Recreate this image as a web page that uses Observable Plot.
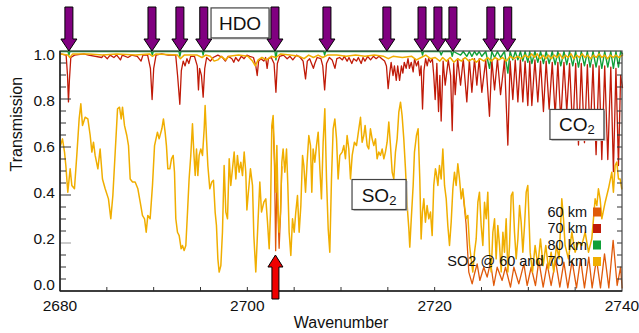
<!DOCTYPE html>
<html><head><meta charset="utf-8">
<script src="https://cdn.jsdelivr.net/npm/d3@7"></script>
<script src="https://cdn.jsdelivr.net/npm/@observablehq/plot@0.6"></script>
<style>body{margin:0;background:#fff;font-family:"Liberation Sans",Arial,sans-serif;}</style>
</head><body><div id="chart"></div>
<script>
// ---- data: [wavenumber, transmission] ----
const so2At60 = [[2680.0,0.608],[2680.21,0.636],[2680.43,0.581],[2680.57,0.525],[2680.78,0.414],[2681.03,0.511],[2681.21,0.442],[2681.49,0.428],[2681.74,0.567],[2681.99,0.719],[2682.17,0.782],[2682.35,0.692],[2682.63,0.726],[2682.92,0.719],[2683.17,0.65],[2683.35,0.581],[2683.52,0.622],[2683.70,0.567],[2683.99,0.511],[2684.23,0.594],[2684.48,0.469],[2684.77,0.428],[2685.12,0.386],[2685.37,0.303],[2685.59,0.40],[2685.84,0.581],[2686.09,0.761],[2686.30,0.768],[2686.48,0.719],[2686.62,0.768],[2686.83,0.692],[2687.08,0.65],[2687.26,0.608],[2687.44,0.469],[2687.69,0.456],[2687.97,0.456],[2688.26,0.428],[2688.51,0.372],[2688.75,0.317],[2688.97,0.303],[2689.15,0.247],[2689.32,0.317],[2689.57,0.303],[2689.82,0.442],[2690.04,0.608],
[2690.35,0.664],[2690.53,0.636],[2690.82,0.678],[2690.99,0.719],[2691.17,0.664],[2691.31,0.608],[2691.46,0.511],[2691.67,0.511],[2691.85,0.553],[2692.03,0.567],[2692.17,0.497],[2692.31,0.303],[2692.49,0.247],[2692.67,0.233],[2692.88,0.178],[2693.02,0.192],[2693.20,0.171],[2693.38,0.192],[2693.56,0.331],[2693.73,0.469],[2693.91,0.567],[2694.09,0.699],[2694.23,0.581],[2694.38,0.483],[2694.52,0.594],[2694.66,0.483],[2694.80,0.567],[2694.98,0.594],[2695.16,0.567],[2695.34,0.678],[2695.44,0.775],[2695.59,0.636],[2695.73,0.525],[2695.94,0.428],[2696.15,0.456],[2696.33,0.463],[2696.51,0.331],[2696.65,0.275],[2696.80,0.136],[2696.94,0.081],[2697.12,0.108],[2697.29,0.247],[2697.47,0.525],[2697.65,0.331],[2697.83,0.303],[2698.01,0.553],[2698.18,0.442],[2698.36,0.511],[2698.54,0.581],[2698.72,0.469],[2698.89,0.567],[2699.07,0.497],[2699.25,0.539],[2699.43,0.483],[2699.61,0.581],[2699.78,0.497],[2699.9,0.34],
[2700.03,0.40],[2700.28,0.511],[2700.50,0.442],[2700.64,0.233],[2700.85,0.081],[2701.10,0.303],[2701.28,0.456],[2701.46,0.331],[2701.71,0.372],[2701.92,0.386],[2702.10,0.289],[2702.28,0.178],[2702.42,0.331],[2702.56,0.692],[2702.70,0.733],[2702.85,0.567],[2702.99,0.414],[2703.10,0.608],[2703.24,0.331],[2703.34,0.247],[2703.49,0.331],[2703.63,0.539],[2703.77,0.594],[2703.95,0.497],[2704.13,0.594],[2704.27,0.442],[2704.41,0.247],[2704.59,0.15],[2704.77,0.303],[2704.95,0.247],[2705.12,0.331],[2705.30,0.40],[2705.48,0.247],[2705.66,0.358],[2705.84,0.567],[2705.98,0.525],[2706.16,0.414],[2706.33,0.539],[2706.51,0.65],[2706.69,0.608],[2706.83,0.414],[2706.97,0.594],[2707.15,0.539],[2707.33,0.608],[2707.51,0.664],[2707.69,0.511],[2707.86,0.386],[2708.04,0.622],[2708.22,0.761],[2708.40,0.469],[2708.58,0.261],[2708.75,0.164],[2708.93,0.469],[2709.11,0.678],[2709.29,0.719],[2709.47,0.636],[2709.64,0.469],[2709.82,0.567],
[2710.07,0.581],[2710.25,0.608],[2710.42,0.553],[2710.60,0.65],[2710.78,0.594],[2710.96,0.469],[2711.14,0.567],[2711.38,0.622],[2711.60,0.608],[2711.85,0.678],[2712.03,0.726],[2712.20,0.622],[2712.38,0.65],[2712.52,0.692],[2712.74,0.608],[2712.91,0.594],[2713.09,0.678],[2713.27,0.636],[2713.45,0.608],[2713.63,0.636],[2713.80,0.553],[2713.98,0.581],[2714.16,0.567],[2714.34,0.594],[2714.52,0.553],[2714.69,0.581],[2714.87,0.622],[2715.05,0.706],[2715.23,0.608],[2715.41,0.497],[2715.58,0.469],[2715.76,0.581],[2715.94,0.636],[2716.12,0.747],[2716.30,0.789],[2716.47,0.733],[2716.65,0.636],[2716.83,0.511],[2717.01,0.358],[2717.19,0.261],[2717.29,0.185],[2717.43,0.289],[2717.65,0.442],[2717.79,0.581],[2718.00,0.65],[2718.18,0.678],[2718.36,0.469],[2718.50,0.219],[2718.64,0.331],[2718.79,0.386],[2718.96,0.289],[2719.14,0.358],[2719.32,0.303],[2719.50,0.331],[2719.68,0.233],[2719.85,0.442],[2720.03,0.511],
[2720.11,0.497],[2720.29,0.442],[2720.46,0.525],[2720.64,0.469],[2720.82,0.594],[2721.0,0.442],[2721.18,0.386],[2721.35,0.275],[2721.53,0.192],[2721.71,0.289],[2721.89,0.428],[2722.06,0.497],[2722.24,0.442],[2722.42,0.532],[2722.60,0.469],[2722.78,0.386],[2722.95,0.428],[2723.13,0.358],[2723.31,0.303],[2723.49,0.317],[2723.67,0.192],[2723.84,0.136],[2724.02,0.081],[2724.2,0.164],[2724.38,0.219],[2724.56,0.372],[2724.73,0.414],[2724.91,0.275],[2725.09,0.192],[2725.27,0.372],[2725.45,0.303],[2725.62,0.414],[2725.80,0.164],[2725.98,0.081],[2726.16,0.247],[2726.34,0.303],[2726.51,0.136],[2726.69,0.275],[2726.87,0.192],[2727.05,0.081],[2727.23,0.247],[2727.40,0.164],[2727.58,0.303],[2727.76,0.081],[2727.94,0.192],[2728.12,0.40],[2728.29,0.414],[2728.47,0.247],[2728.65,0.136],[2728.83,0.219],[2729.01,0.358],[2729.18,0.289],[2729.36,0.164],[2729.54,0.275],[2729.72,0.414],[2729.89,0.442],[2730.07,0.247],
[2730.14,0.164],[2730.39,0.081],[2730.67,0.192],[2730.96,0.108],[2731.24,0.219],[2731.53,0.108],[2731.81,0.192],[2732.10,0.094],[2732.38,0.164],[2732.66,0.081],[2732.95,0.192],[2733.23,0.136],[2733.52,0.386],[2733.70,0.303],[2733.87,0.192],[2734.23,0.136],[2734.59,0.247],[2734.94,0.164],[2735.30,0.206],[2735.65,0.192],[2736.01,0.247],[2736.37,0.164],[2736.72,0.219],[2737.08,0.386],[2737.26,0.358],[2737.43,0.428],[2737.61,0.386],[2737.79,0.303],[2738.15,0.372],[2738.50,0.428],[2738.86,0.497],[2739.03,0.414],[2739.21,0.525],[2739.39,0.539],[2739.57,0.469],[2739.75,0.469],[2739.92,0.428]];

const so2At70 = [[2680,0.99],[2680.8,0.985],[2681.0,0.975],[2681.3,0.99],[2683,0.99],[2684.5,0.985],[2686,0.99],[2688,0.985],[2689.5,0.99],[2689.8,0.98],[2690.2,0.99],[2692.5,0.985],[2692.8,0.97],[2693.2,0.985],[2694.6,0.985],[2695.1,0.975],[2695.5,0.985],[2696.0,0.98],[2696.4,0.96],[2696.8,0.965],[2697.2,0.98],[2697.6,0.965],[2698.0,0.98],[2699.0,0.985],[2700.0,0.98],[2700.5,0.96],[2700.8,0.94],[2701.1,0.965],[2701.5,0.975],[2702.0,0.965],[2702.5,0.98],[2703.0,0.975],[2703.5,0.99],[2704.5,0.985],[2705.5,0.98],[2706.0,0.97],[2706.5,0.985],[2707.0,0.975],[2707.5,0.985],[2708.0,0.975],[2708.5,0.985],[2709.5,0.985],[2710.5,0.98],[2711.5,0.985],[2712.5,0.98],[2713.5,0.985],[2714.5,0.98],[2715.0,0.97],[2715.5,0.98],[2716.5,0.975],[2717.5,0.98],[2718.0,0.965],[2718.5,0.975],[2719.0,0.985],[2719.5,0.97],[2720.0,0.975],[2720.5,0.96],[2720.8,0.975],[2721.2,0.96],[2721.6,0.975],[2722.0,0.955],[2722.4,0.97],[2722.8,0.96],[2723.2,0.975],[2723.6,0.96],[2724.0,0.97],[2724.4,0.955],[2724.8,0.97],[2725.2,0.96],[2725.6,0.975],[2726.0,0.96],[2726.4,0.975],[2726.8,0.965],[2727.2,0.975],[2727.6,0.96],[2728.0,0.98],[2728.4,0.97],[2728.8,0.98],[2729.2,0.97],[2729.6,0.985],[2730.0,0.975],[2730.3,0.99],[2730.6,0.975],[2730.9,0.99],[2731.2,0.97],[2731.5,0.985],[2731.8,0.97],[2732.1,0.985],[2732.4,0.97],[2732.7,0.985],[2733.0,0.975],[2733.3,0.99],[2733.6,0.97],[2733.9,0.985],[2734.2,0.975],[2734.5,0.99],[2734.8,0.97],[2735.1,0.985],[2735.4,0.975],[2735.7,0.99],[2736.0,0.975],[2736.3,0.985],[2736.6,0.97],[2736.9,0.985],[2737.2,0.975],[2737.5,0.99],[2737.8,0.975],[2738.1,0.985],[2738.4,0.97],[2738.7,0.985],[2739.0,0.975],[2739.3,0.985],[2739.6,0.975],[2740.0,0.985]];

const km60 = [[2702.56,0.68],[2702.7,0.70],[2702.85,0.52],[2702.97,0.17],[2703.1,0.45],[2703.24,0.30],[2703.34,0.18],[2703.49,0.32],[2703.63,0.52],[2703.7,null],
[2723.0,0.40],[2723.3,0.28],[2723.59,0.081],[2723.95,0.032],[2724.20,0.074],[2724.48,0.115],[2724.77,0.046],[2725.19,0.101],[2725.55,0.060],[2725.91,0.122],[2726.26,0.025],[2726.62,0.101],[2727.15,0.046],[2727.51,0.101],[2728.04,0.018],[2728.40,0.101],[2728.93,0.032],[2729.47,0.115],[2729.82,0.025],[2730.25,0.101],[2730.71,0.025],[2731.07,0.129],[2731.53,0.018],[2731.96,0.115],[2732.38,0.025],[2732.85,0.129],[2733.31,0.018],[2733.74,0.122],[2734.16,0.015],[2734.62,0.129],[2735.09,0.015],[2735.52,0.136],[2735.94,0.015],[2736.40,0.143],[2736.76,0.015],[2737.22,0.136],[2737.65,0.015],[2738.08,0.157],[2738.54,0.015],[2739.0,0.213],[2739.43,0.025],[2739.79,0.101],[2739.96,0.015]];

const km70 = [[2680.0,0.99],[2680.6,0.985],[2680.75,0.90],[2680.85,0.79],[2680.95,0.88],[2681.1,0.975],[2681.5,0.985],[2682.5,0.99],[2683.0,0.985],[2684.4,0.975],[2684.6,0.985],[2685.0,0.97],[2685.3,0.985],[2685.7,0.975],[2686.0,0.985],[2686.4,0.965],[2686.6,0.985],[2687.2,0.975],[2687.6,0.985],[2688.2,0.98],[2688.6,0.96],[2688.8,0.985],[2689.3,0.985],[2689.6,0.93],[2689.78,0.80],[2689.95,0.93],[2690.2,0.985],[2690.8,0.99],[2691.5,0.985],[2692.3,0.985],[2692.5,0.9],[2692.74,0.78],[2692.9,0.92],[2693.1,0.96],[2693.3,0.94],[2693.5,0.97],[2693.7,0.95],[2693.9,0.98],[2694.3,0.98],[2694.6,0.94],[2694.73,0.84],[2694.85,0.93],[2695.05,0.9],[2695.23,0.81],[2695.4,0.93],[2695.6,0.975],[2696.0,0.96],[2696.3,0.975],[2696.8,0.985],[2697.3,0.975],[2697.6,0.96],[2697.9,0.98],[2698.3,0.97],[2698.5,0.955],[2698.7,0.975],[2699.0,0.96],[2699.3,0.98],[2699.6,0.97],[2699.9,0.985],[2700.2,0.98],[2700.6,0.975],[2700.85,0.94],[2701.0,0.90],[2701.15,0.96],[2701.4,0.97],[2701.7,0.96],[2701.9,0.975],[2702.06,0.93],[2702.2,0.97],[2702.5,0.975],[2702.8,0.95],[2703.0,0.83],[2703.15,0.95],[2703.4,0.98],[2703.8,0.985],[2704.2,0.97],[2704.5,0.98],[2704.8,0.965],[2705.2,0.985],[2705.6,0.975],[2705.9,0.96],[2706.16,0.886],[2706.35,0.96],[2706.6,0.97],[2706.8,0.95],[2707.0,0.93],[2707.15,0.95],[2707.4,0.975],[2707.8,0.97],[2708.0,0.94],[2708.2,0.84],[2708.4,0.95],[2708.7,0.975],[2709.0,0.965],[2709.3,0.93],[2709.5,0.97],[2709.8,0.975],
[2710.1,0.965],[2710.3,0.98],[2710.6,0.96],[2710.8,0.975],[2711.1,0.95],[2711.3,0.97],[2711.6,0.96],[2711.8,0.975],[2712.1,0.95],[2712.3,0.975],[2712.5,0.96],[2712.8,0.98],[2713.1,0.965],[2713.4,0.98],[2713.7,0.97],[2714.0,0.98],[2714.3,0.97],[2714.6,0.96],[2714.8,0.94],[2714.98,0.845],[2715.15,0.91],[2715.3,0.955],[2715.5,0.90],[2715.65,0.94],[2715.85,0.88],[2716.0,0.94],[2716.2,0.88],[2716.4,0.94],[2716.55,0.91],[2716.7,0.955],[2716.9,0.93],[2717.1,0.97],[2717.25,0.93],[2717.45,0.955],[2717.65,0.915],[2717.8,0.97],[2718.0,0.94],[2718.2,0.96],[2718.35,0.9],[2718.5,0.94],[2718.65,0.76],[2718.8,0.92],[2718.98,0.97],[2719.15,0.94],[2719.3,0.97],[2719.5,0.955],[2719.7,0.97],[2719.85,0.90],
[2720.0,0.80],[2720.18,0.95],[2720.36,0.75],[2720.5,0.9],[2720.64,0.71],[2720.85,0.96],[2721.07,0.86],[2721.4,0.965],[2721.65,0.9],[2721.82,0.67],[2721.98,0.95],[2722.14,0.82],[2722.4,0.97],[2722.71,0.86],[2723.0,0.97],[2723.38,0.79],[2723.65,0.965],[2723.92,0.83],[2724.2,0.97],[2724.45,0.86],[2724.7,0.97],[2724.98,0.83],[2725.4,0.965],[2725.8,0.73],[2726.05,0.965],[2726.34,0.84],[2726.65,0.97],[2726.98,0.82],[2727.4,0.965],[2727.76,0.61],[2728.0,0.96],[2728.29,0.80],[2728.55,0.965],[2728.83,0.79],[2729.1,0.965],[2729.36,0.79],[2729.6,0.96],[2729.89,0.775],[2730.1,0.96],[2730.32,0.775],[2730.65,0.965],[2730.96,0.79],[2731.25,0.96],[2731.56,0.75],[2731.85,0.96],[2732.17,0.76],[2732.5,0.955],[2732.81,0.73],[2733.1,0.955],[2733.41,0.71],[2733.75,0.955],[2734.05,0.75],[2734.35,0.95],[2734.69,0.66],[2735.0,0.95],[2735.3,0.61],[2735.6,0.95],[2735.94,0.62],[2736.25,0.945],[2736.54,0.64],[2736.85,0.945],[2737.18,0.57],[2737.5,0.94],[2737.79,0.55],[2738.1,0.94],[2738.43,0.55],[2738.75,0.935],[2739.03,0.50],[2739.3,0.93],[2739.57,0.525],[2739.8,0.9],[2740.0,0.85]];

const km80 = [[2680,1],[2680.8,1],[2680.9,0.985],[2681.0,1],[2689.7,1],[2689.8,0.985],[2689.9,1],[2692.65,1],[2692.74,0.98],[2692.85,1],[2695.15,1],[2695.23,0.985],[2695.3,1],[2702.9,1],[2703.0,0.965],[2703.1,1],[2708.1,1],[2708.2,0.985],[2708.3,1],[2718.55,1],[2718.65,0.985],[2718.75,1],[2720.5,1],[2720.64,0.985],[2720.8,1],[2721.7,1],[2721.82,0.98],[2721.95,1],[2722.71,0.985],[2723.0,1],[2723.38,0.98],[2723.65,1],[2723.92,0.98],[2724.2,1],[2724.45,0.985],[2724.7,1],[2724.98,0.98],[2725.4,1],[2725.8,0.93],[2726.05,1],[2726.34,0.975],[2726.65,1],[2726.98,0.975],[2727.4,1],[2727.76,0.91],[2728.0,1],[2728.29,0.965],[2728.55,1],[2728.83,0.965],[2729.1,1],[2729.36,0.96],[2729.6,1],[2729.89,0.955],[2730.1,1],[2730.32,0.95],[2730.65,1],[2730.96,0.955],[2731.25,1],[2731.56,0.95],[2731.85,1],[2732.17,0.95],[2732.5,1],[2732.81,0.945],[2733.1,1],[2733.41,0.94],[2733.75,1],[2734.05,0.945],[2734.35,1],[2734.69,0.94],[2735.0,1],[2735.3,0.935],[2735.6,1],[2735.94,0.94],[2736.25,1],[2736.54,0.935],[2736.85,1],[2737.18,0.935],[2737.5,1],[2737.79,0.93],[2738.1,1],[2738.43,0.935],[2738.75,1],[2739.03,0.93],[2739.3,1],[2739.57,0.935],[2739.8,1],[2740,0.99]];

const hdoArrows = [2680.95, 2689.82, 2692.8, 2695.35, 2702.95, 2708.5, 2714.9, 2718.65, 2720.35, 2721.95, 2726.0, 2727.8];
const so2Arrow = [[2703.0, 0.15]];
const xTicks = [2680, 2700, 2720, 2740];
const yTicks = [0, 0.2, 0.4, 0.6, 0.8, 1.0];
const legendLabels = ["60 km", "70 km", "80 km", "SO2 @ 60 and 70 km"];
const annotations = [
  {label: "HDO", sub: "", w: 2699.22, t: 1.117, bw: 58},
  {label: "CO", sub: "2", w: 2735.19, t: 0.694, bw: 54},
  {label: "SO", sub: "2", w: 2714.06, t: 0.402, bw: 54}
];

const C60 = "#e05a0a", C70 = "#c01a08", C80 = "#10a038", CSO2 = "#f0ae00";
const legendColors = [C60, C70, C80, CSO2];
const FONT = '"Liberation Sans", Arial, sans-serif';

const toRows = (arr) => arr.map(([w, t]) => ({w, t}));
const lineOpts = (c, sw) => ({x: "w", y: "t", stroke: c, strokeWidth: sw, curve: "linear"});

function ticksMark(index, s) {
  const g = d3.create("svg:g").attr("stroke", "#333").attr("fill", "none");
  const x0 = s.x(2680), x1 = s.x(2740), yb = s.y(0), yt = s.y(1);
  for (let v = 2685; v < 2740; v += 5) g.append("line").attr("x1", s.x(v)).attr("x2", s.x(v)).attr("y1", yb).attr("y2", yb - 4);
  for (let k = 1; k < 20; k++) {
    const v = k * 0.05, y = s.y(v), major = k % 4 === 0;
    g.append("line").attr("x1", x0).attr("x2", x0 + (major ? 11 : 6)).attr("y1", y).attr("y2", y)
      .attr("stroke", major && k === 4 ? "#999" : "#333");
    g.append("line").attr("x1", x1).attr("x2", x1 - 5).attr("y1", y).attr("y2", y);
  }
  g.append("rect").attr("x", x0).attr("y", yt).attr("width", x1 - x0).attr("height", yb - yt).attr("stroke", "#444").attr("stroke-width", 1.2);
  g.append("line").attr("x1", x0).attr("x2", x1).attr("y1", yb).attr("y2", yb).attr("stroke", "#222").attr("stroke-width", 1.5);
  g.append("line").attr("x1", x0).attr("x2", x0).attr("y1", yt).attr("y2", yb).attr("stroke", "#222").attr("stroke-width", 1.5);
  return g.node();
}

function yLabelsMark(index, s) {
  const g = d3.create("svg:g").attr("font-family", FONT).attr("font-size", 15.5).attr("fill", "#111").attr("text-anchor", "end");
  for (const v of yTicks) {
    g.append("text").attr("x", s.x(2680) - 5).attr("y", s.y(v) + 4 - 10 * (1 - v)).attr("dy", "0.35em").text(v.toFixed(1));
  }
  return g.node();
}

function xLabelsMark(index, s) {
  const g = d3.create("svg:g").attr("font-family", FONT).attr("fill", "#111").attr("text-anchor", "middle");
  const yb = s.y(0);
  for (const v of xTicks) {
    g.append("text").attr("x", s.x(v)).attr("y", yb + 15).attr("dy", "0.35em").attr("font-size", 15.5).text(String(v));
  }
  g.append("text").attr("x", (s.x(2680) + s.x(2740)) / 2).attr("y", yb + 31).attr("dy", "0.35em").attr("font-size", 16).text("Wavenumber");
  return g.node();
}

function arrowsMark(index, s) {
  const g = d3.create("svg:g").attr("stroke", "#000").attr("stroke-width", 1).attr("stroke-linejoin", "miter");
  const tip = s.y(1), top = 7;
  for (const w of hdoArrows) {
    const x = s.x(w), hb = tip - 12;
    g.append("polygon").attr("fill", "#800080").attr("points",
      [[x-4,top],[x+4,top],[x+4,hb],[x+8,hb],[x,tip],[x-8,hb],[x-4,hb]].map(p => p.join(",")).join(" "));
  }
  for (const [w, t] of so2Arrow) {
    const x = s.x(w), tp = s.y(t), hb = tp + 12, bottom = 299;
    g.append("polygon").attr("fill", "#f00000").attr("points",
      [[x-3.5,bottom],[x+3.5,bottom],[x+3.5,hb],[x+7.5,hb],[x,tp],[x-7.5,hb],[x-3.5,hb]].map(p => p.join(",")).join(" "));
  }
  return g.node();
}

function boxesMark(index, s) {
  const g = d3.create("svg:g").attr("font-family", FONT);
  for (const a of annotations) {
    const cx = s.x(a.w), cy = s.y(a.t), bh = 30;
    g.append("rect").attr("x", cx - a.bw / 2 + 1.5).attr("y", cy - bh / 2 + 1.5).attr("width", a.bw).attr("height", bh).attr("fill", "#bbb");
    g.append("rect").attr("x", cx - a.bw / 2).attr("y", cy - bh / 2).attr("width", a.bw).attr("height", bh)
      .attr("fill", "#fff").attr("stroke", "#444").attr("stroke-width", 1.2);
    const t = g.append("text").attr("x", cx).attr("y", cy + 7).attr("text-anchor", "middle").attr("font-size", 19).attr("fill", "#111");
    t.append("tspan").text(a.label);
    if (a.sub) t.append("tspan").attr("font-size", 13).attr("dy", 3).text(a.sub);
  }
  return g.node();
}

function legendMark(index, s) {
  const g = d3.create("svg:g").attr("font-family", FONT).attr("font-size", 14.5);
  const xr = s.x(2740) - 35, yb = s.y(0);
  const rows = [-79.5, -63, -46.5, -30];
  legendLabels.forEach((lab, i) => {
    const y = yb + rows[i];
    g.append("text").attr("x", xr).attr("y", y).attr("dy", "0.35em").attr("text-anchor", "end").attr("fill", "#111").text(lab);
    g.append("rect").attr("x", xr + 6).attr("y", y - 4).attr("width", 8).attr("height", 9).attr("fill", legendColors[i]);
  });
  return g.node();
}

const plot = Plot.plot({
  width: 639, height: 333,
  marginLeft: 60, marginRight: 17, marginTop: 51, marginBottom: 42,
  x: {domain: [2680, 2740], axis: null},
  y: {domain: [0, 1], axis: null},
  style: {fontFamily: FONT, background: "#fff"},
  marks: [
    Plot.line(toRows(km60), lineOpts(C60, 1.3)),
    Plot.line(toRows(km70), lineOpts(C70, 1.3)),
    Plot.line(toRows(km80), lineOpts(C80, 1.4)),
    Plot.line(toRows(so2At70), lineOpts(CSO2, 1.5)),
    Plot.line(toRows(so2At60), lineOpts(CSO2, 1.5)),
    ticksMark,
    yLabelsMark,
    xLabelsMark,
    Plot.text(["Transmission"], {frameAnchor: "left", dx: -44, rotate: -90, text: d => d, fontSize: 16, fill: "#111"}),
    boxesMark,
    legendMark,
    arrowsMark
  ]
});
document.getElementById("chart").appendChild(plot);
</script>
</body></html>
